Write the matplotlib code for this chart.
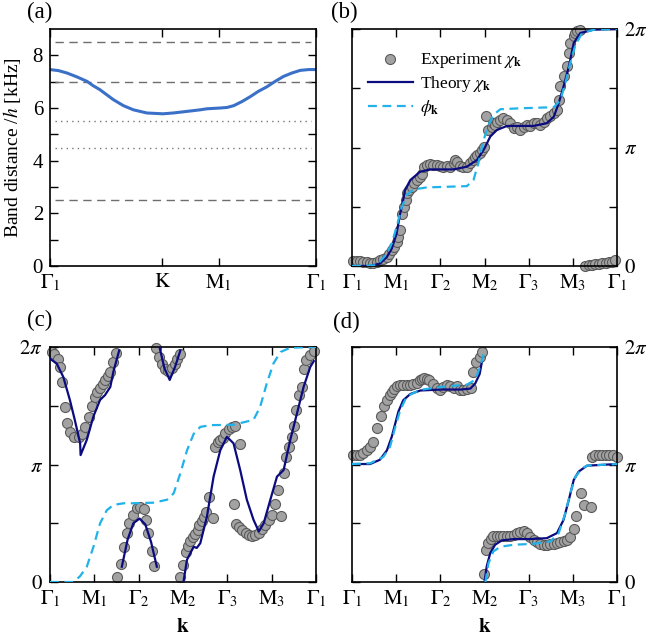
import numpy as np
import matplotlib
matplotlib.use('Agg')
import matplotlib.pyplot as plt

plt.rcParams['font.family'] = ['Liberation Serif', 'DejaVu Serif']
plt.rcParams['mathtext.fontset'] = 'stix'

nan = np.nan

# ---------------- Panel (a) ----------------
a_tick_pos = [0.0, 1.333, 2.0, 3.155]
a_tick_labels = [r'$\Gamma_1$', r'$\mathrm{K}$', r'$\mathrm{M}_1$', r'$\Gamma_1$']
a_k = [0.0, 0.10, 0.20, 0.32, 0.44, 0.51, 0.59, 0.67, 0.75, 0.87, 0.99, 1.15, 1.34,
       1.46, 1.62, 1.78, 1.86, 2.02, 2.10, 2.18, 2.28, 2.38, 2.47, 2.57, 2.67, 2.77,
       2.87, 2.97, 3.07, 3.155]
a_band = [7.46, 7.42, 7.33, 7.18, 7.01, 6.85, 6.70, 6.51, 6.32, 6.09, 5.93, 5.81, 5.78,
          5.81, 5.87, 5.93, 5.97, 6.00, 6.02, 6.09, 6.25, 6.44, 6.63, 6.80, 7.01, 7.20,
          7.33, 7.43, 7.46, 7.46]
a_dashed_levels = [8.5, 7.0, 2.5]
a_dotted_levels = [5.5, 4.5]

# ---------------- common path for (b)-(d) ----------------
path_pos = [0, 1, 2, 3, 4, 5, 6]
path_labels = [r'$\Gamma_1$', r'$\mathrm{M}_1$', r'$\Gamma_2$', r'$\mathrm{M}_2$',
               r'$\Gamma_3$', r'$\mathrm{M}_3$', r'$\Gamma_1$']
phase_ticks = [0, 0.5, 1, 1.5, 2]          # in units of pi
phase_labels = [r'$0$', '', r'$\pi$', '', r'$2\pi$']

# ---------------- Panel (b) ----------------
b_exp_k = [0.03, 0.11, 0.18, 0.26, 0.33, 0.41, 0.48, 0.56, 0.63, 0.71, 0.79, 0.84, 0.90,
           0.95, 1.01, 1.05, 1.09, 1.14, 1.18, 1.22, 1.25, 1.30, 1.35, 1.41, 1.47, 1.53,
           1.58, 1.63, 1.69, 1.77, 1.84, 1.92, 2.00, 2.07, 2.15, 2.22, 2.30, 2.34, 2.37,
           2.45, 2.52, 2.60, 2.68, 2.75, 2.79, 2.83, 2.89, 2.94, 2.98, 3.04, 3.09, 3.17,
           3.20, 3.24, 3.28, 3.36, 3.43, 3.51, 3.58, 3.66, 3.73, 3.81, 3.89, 3.96, 4.04,
           4.11, 4.19, 4.26, 4.34, 4.41, 4.49, 4.57, 4.64, 4.68, 4.72, 4.79, 4.87, 4.91,
           4.94, 5.02, 5.06, 5.09, 5.17,
           5.28, 5.36, 5.43, 5.51, 5.59, 5.66, 5.74, 5.81, 5.89, 5.96]
b_exp_y = [0.039, 0.039, 0.039, 0.034, 0.031, 0.025, 0.028, 0.034, 0.048, 0.062, 0.076,
           0.104, 0.133, 0.161, 0.203, 0.245, 0.302, 0.443, 0.500, 0.556, 0.612, 0.640,
           0.668, 0.697, 0.725, 0.753, 0.780, 0.838, 0.852, 0.860, 0.855, 0.849, 0.843,
           0.838, 0.845, 0.838, 0.866, 0.894, 0.880, 0.843, 0.838, 0.832, 0.866, 0.894,
           0.922, 0.937, 0.951, 0.979, 1.007, 1.267, 1.148, 1.176, 1.205, 1.190, 1.219,
           1.233, 1.247, 1.233, 1.205, 1.162, 1.176, 1.148, 1.176, 1.190, 1.182, 1.205,
           1.205, 1.190, 1.219, 1.247, 1.262, 1.290, 1.320, 1.400, 1.515, 1.600, 1.684,
           1.797, 1.882, 1.938, 1.966, 1.980, 1.989,
           0.000, 0.006, 0.011, 0.020, 0.020, 0.025, 0.028, 0.031, 0.034, 0.048]
b_theory_k = [0.0, 0.41, 0.63, 0.79, 0.90, 1.01, 1.09, 1.13, 1.20, 1.32, 1.54, 1.77,
              2.30, 2.60, 2.83, 3.00, 3.13, 3.28, 3.51, 4.11, 4.41, 4.57, 4.68, 4.79,
              4.91, 5.02, 5.17, 5.47, 6.0]
b_theory_y = [0.0, 0.0, 0.02, 0.076, 0.147, 0.274, 0.443, 0.50, 0.64, 0.725, 0.795,
              0.815, 0.815, 0.838, 0.894, 0.993, 1.092, 1.148, 1.182, 1.182, 1.205,
              1.26, 1.374, 1.515, 1.684, 1.882, 1.966, 1.994, 2.0]
b_phi_k = [0.0, 0.56, 0.79, 0.90, 1.01, 1.13, 1.24, 1.39, 1.69, 2.60, 2.75, 2.86, 2.98,
           3.09, 3.20, 3.36, 3.81, 4.57, 4.72, 4.83, 4.94, 5.06, 5.21, 5.47, 6.0]
b_phi_y = [0.0, 0.006, 0.104, 0.19, 0.33, 0.50, 0.60, 0.646, 0.663, 0.674, 0.725, 0.866,
           1.063, 1.19, 1.275, 1.323, 1.331, 1.34, 1.40, 1.543, 1.712, 1.867, 1.966,
           1.994, 2.0]

# ---------------- Panel (c) ----------------
c_exp_k = [0.04, 0.09, 0.17, 0.23, 0.26, 0.34, 0.39, 0.45, 0.54, 0.66, 0.72, 0.79, 0.87,
           0.94, 1.02, 1.07, 1.13, 1.19, 1.24, 1.30, 1.36, 1.43, 1.49,
           1.52, 1.60, 1.67, 1.73, 1.79, 1.88, 1.96, 2.03, 2.11, 2.17, 2.22, 2.30, 2.35,
           2.39, 2.45, 2.52, 2.60, 2.67, 2.75, 2.81, 2.86, 2.94,
           2.94, 3.00, 3.06, 3.11, 3.16, 3.22, 3.27, 3.33, 3.37, 3.42, 3.47, 3.52, 3.58,
           3.67, 3.73, 3.78, 3.84, 3.90, 3.95, 4.03, 4.10, 4.18, 4.28, 4.14, 4.20, 4.26,
           4.33, 4.41, 4.48, 4.56, 4.63, 4.71, 4.78, 4.86, 4.93, 5.01, 5.08, 5.20, 5.14,
           5.27, 5.33, 5.38, 5.46, 5.51, 5.56, 5.61, 5.69, 5.72, 5.78, 5.86, 5.95]
c_exp_y = [1.958, 1.938, 1.900, 1.830, 1.700, 1.490, 1.350, 1.280, 1.236, 1.236, 1.260,
           1.320, 1.406, 1.496, 1.576, 1.618, 1.652, 1.689, 1.717, 1.751, 1.788, 1.873,
           1.949,
           0.042, 0.153, 0.297, 0.416, 0.506, 0.571, 0.628, 0.636, 0.620, 0.529, 0.416,
           0.260, 0.133,
           1.990, 1.915, 1.853, 1.816, 1.796, 1.822, 1.859, 1.900, 1.943,
           0.040, 0.147, 0.255, 0.303, 0.345, 0.379, 0.410, 0.444, 0.484, 0.515, 0.557,
           0.597, 0.727, 0.543, 1.151, 1.194, 1.208, 1.222, 1.265, 1.298, 1.321, 1.327,
           1.174, 0.665, 0.495, 0.464, 0.444, 0.421, 0.402, 0.393, 0.402, 0.421, 0.450,
           0.487, 0.529, 0.571, 0.665, 0.563, 0.784, 0.925, 1.066, 1.151, 1.236, 1.327,
           1.462, 1.590, 1.660, 1.816, 1.887, 1.929, 1.966]
c_theory_k = [0.0, 0.15, 0.30, 0.45, 0.56, 0.68, 0.69, 0.83, 0.98, 1.13, 1.24, 1.36, 1.43,
              1.56, nan,
              1.62, 1.75, 1.88, 2.02, 2.15, 2.28, 2.41, nan,
              2.47, 2.58, 2.70, 2.82, 2.94, nan,
              3.01, 3.09, 3.24, 3.31, 3.39, 3.54, 3.69, 3.84, 3.99, 4.14, 4.29, 4.44, 4.59,
              4.71, 4.82, 4.97, 5.12, 5.27, 5.42, 5.57, 5.72, 5.87, 5.95]
c_theory_y = [1.90, 1.86, 1.745, 1.547, 1.378, 1.18, 1.08, 1.21, 1.41, 1.55, 1.59, 1.66,
              1.79, 1.97, nan,
              0.13, 0.36, 0.50, 0.54, 0.49, 0.34, 0.13, nan,
              2.0, 1.82, 1.72, 1.83, 1.97, nan,
              0.0, 0.19, 0.30, 0.29, 0.33, 0.557, 0.897, 1.12, 1.236, 1.18, 0.953, 0.70,
              0.53, 0.43, 0.50, 0.70, 0.897, 0.953, 1.21, 1.434, 1.66, 1.83, 1.88]
c_phi_k = [0.0, 0.53, 0.68, 0.83, 0.98, 1.13, 1.28, 1.43, 1.66, 1.88, 2.33, 2.64, 2.79,
           2.94, 3.09, 3.24, 3.39, 3.62, 4.14, 4.59, 4.74, 4.89, 5.04, 5.20, 5.42, 6.0]
c_phi_y = [0.0, 0.0, 0.05, 0.13, 0.30, 0.50, 0.61, 0.656, 0.67, 0.67, 0.675, 0.70, 0.755,
           0.925, 1.12, 1.26, 1.32, 1.335, 1.338, 1.38, 1.49, 1.69, 1.86, 1.957, 1.994,
           2.0]

# ---------------- Panel (d) ----------------
d_exp_k = [0.03, 0.11, 0.18, 0.26, 0.33, 0.41, 0.48, 0.57, 0.65, 0.73, 0.79, 0.85, 0.90,
           0.95, 1.01, 1.09, 1.16, 1.24, 1.32, 1.39, 1.47, 1.53, 1.58, 1.63, 1.69, 1.75,
           1.84, 1.92, 2.00, 2.07, 2.15, 2.22, 2.30, 2.37, 2.45, 2.52, 2.60, 2.69, 2.75,
           2.81, 2.89, 2.94,
           2.98, 3.03, 3.09, 3.14, 3.20, 3.28, 3.36, 3.43, 3.51, 3.58, 3.66, 3.73, 3.81,
           3.89, 3.96, 4.04, 4.11, 4.19, 4.26, 4.34, 4.41, 4.49, 4.57, 4.64, 4.72, 4.79,
           4.87, 4.94, 5.03, 5.08, 5.19, 5.25, 5.41, 5.43, 5.51, 5.59, 5.66, 5.74, 5.81,
           5.90, 5.99]
d_exp_y = [1.081, 1.078, 1.083, 1.100, 1.123, 1.151, 1.194, 1.313, 1.412, 1.496, 1.547,
           1.590, 1.618, 1.646, 1.666, 1.675, 1.680, 1.675, 1.680, 1.683, 1.694, 1.717,
           1.731, 1.740, 1.726, 1.717, 1.689, 1.655, 1.638, 1.660, 1.675, 1.666, 1.655,
           1.666, 1.638, 1.632, 1.646, 1.655, 1.788, 1.873, 1.915, 1.958,
           0.071, 0.274, 0.331, 0.365, 0.388, 0.388, 0.388, 0.388, 0.393, 0.393, 0.402,
           0.416, 0.424, 0.436, 0.416, 0.382, 0.354, 0.337, 0.325, 0.317, 0.317, 0.322,
           0.322, 0.331, 0.339, 0.345, 0.359, 0.382, 0.450, 0.563, 0.761, 0.656, 0.642,
           1.066, 1.078, 1.078, 1.078, 1.078, 1.078, 1.078, 1.066]
d_theory_k = [0.0, 0.41, 0.63, 0.79, 0.90, 0.98, 1.05, 1.16, 1.32, 1.55, 2.02, 2.46,
              2.68, 2.79, 2.89, 2.94, nan,
              3.0, 3.05, 3.13, 3.24, 3.39, 3.66, 4.01, 4.41, 4.64, 4.79, 4.91, 5.02,
              5.13, 5.32, 6.0]
d_theory_y = [1.004, 1.004, 1.04, 1.12, 1.236, 1.35, 1.45, 1.547, 1.60, 1.63, 1.638,
              1.638, 1.646, 1.69, 1.77, 1.87, nan,
              0.0, 0.133, 0.246, 0.317, 0.354, 0.365, 0.365, 0.373, 0.416, 0.529, 0.70,
              0.868, 0.939, 0.99, 1.004]
d_phi_k = [0.0, 0.41, 0.71, 0.86, 0.98, 1.09, 1.24, 1.54, 2.01, 2.60, 2.79, 2.90, 2.98,
           nan,
           3.02, 3.09, 3.20, 3.36, 3.66, 4.11, 4.49, 4.68, 4.83, 4.94, 5.06, 5.21, 5.32,
           6.0]
d_phi_y = [1.004, 1.01, 1.065, 1.15, 1.32, 1.46, 1.58, 1.635, 1.66, 1.68, 1.72, 1.83,
           1.94, nan,
           0.0, 0.16, 0.26, 0.30, 0.317, 0.325, 0.345, 0.416, 0.585, 0.755, 0.897, 0.967,
           0.99, 1.004]

# ---------------- styling ----------------
navy = '#0b0b80'
cyan = '#20b2e8'
blue_a = '#3b70c8'
mk_face = '#a2a2a2'
mk_edge = '#5a5a5a'
fs = 15

fig = plt.figure(figsize=(6.49, 6.38), dpi=100)
W, H = 649, 638

def box(x0, y0, x1, y1):
    return [x0 / W, 1 - y1 / H, (x1 - x0) / W, (y1 - y0) / H]

ax_a = fig.add_axes(box(50, 29, 316, 266))
ax_b = fig.add_axes(box(352, 29, 617, 266))
ax_c = fig.add_axes(box(50, 347, 316, 582))
ax_d = fig.add_axes(box(352, 347, 617, 582))

for ax in (ax_a, ax_b, ax_c, ax_d):
    for s in ax.spines.values():
        s.set_linewidth(1.2)
    ax.tick_params(which='both', direction='in', top=True, right=True,
                   length=5.5, width=1.0, labelsize=fs, pad=5)

# (a)
for lv in a_dashed_levels:
    ax_a.axhline(lv, xmin=0.02, xmax=0.98, color='#6e6e6e', lw=1.0, dashes=(6, 4))
for lv in a_dotted_levels:
    ax_a.axhline(lv, xmin=0.02, xmax=0.98, color='#777777', lw=1.0, dashes=(1, 3))
ax_a.plot(a_k, a_band, color=blue_a, lw=2.2, solid_capstyle='round')
ax_a.set_xlim(a_tick_pos[0], a_tick_pos[-1])
ax_a.set_ylim(0, 9)
ax_a.set_xticks(a_tick_pos)
ax_a.set_xticklabels(a_tick_labels)
ax_a.set_yticks([0, 2, 4, 6, 8])
ax_a.set_yticks([1, 3, 5, 7], minor=True)
ax_a.set_ylabel(r'Band distance /$h$ [kHz]', fontsize=14, labelpad=7)

def phase_axes(ax, label_side):
    ax.set_xlim(0, 6)
    ax.set_ylim(0, 2)
    ax.set_xticks(path_pos)
    ax.set_xticklabels(path_labels)
    ax.set_yticks(phase_ticks)
    ax.set_yticklabels(phase_labels)
    if label_side == 'right':
        ax.tick_params(axis='y', labelleft=False, labelright=True)

scat_kw = dict(s=52, facecolor=mk_face, edgecolor=mk_edge, linewidths=0.8,
               clip_on=False, zorder=2)

# (b)
ax_b.scatter(b_exp_k, b_exp_y, label=r'Experiment $\chi_\mathbf{k}$', **scat_kw)
ax_b.plot(b_theory_k, b_theory_y, color=navy, lw=1.6, zorder=3,
          label=r'Theory $\chi_\mathbf{k}$')
ax_b.plot(b_phi_k, b_phi_y, color=cyan, lw=1.6, dashes=(4, 2.5), zorder=3,
          label=r'$\phi_\mathbf{k}$')
phase_axes(ax_b, 'right')
ax_b.legend(loc='upper left', bbox_to_anchor=(0.0, 0.975), frameon=False, fontsize=12.5,
            handlelength=2.6, labelspacing=0.25, handletextpad=0.4, scatterpoints=1)

# (c)
ax_c.scatter(c_exp_k, c_exp_y, **scat_kw)
ax_c.plot(c_phi_k, c_phi_y, color=cyan, lw=1.6, dashes=(4, 2.5), zorder=3)
ax_c.plot(c_theory_k, c_theory_y, color=navy, lw=1.6, zorder=3)
phase_axes(ax_c, 'left')
ax_c.set_xlabel(r'$\mathbf{k}$', fontsize=fs, labelpad=6)

# (d)
ax_d.scatter(d_exp_k, d_exp_y, **scat_kw)
ax_d.plot(d_theory_k, d_theory_y, color=navy, lw=1.6, zorder=3)
ax_d.plot(d_phi_k, d_phi_y, color=cyan, lw=1.6, dashes=(4, 2.5), zorder=4)
phase_axes(ax_d, 'right')
ax_d.set_xlabel(r'$\mathbf{k}$', fontsize=fs, labelpad=6)

for lab, (x, y) in zip(['(a)', '(b)', '(c)', '(d)'],
                       [(27, 2), (331, 2), (27, 310), (333, 312)]):
    fig.text(x / W, 1 - y / H, lab, fontsize=16.5, ha='left', va='top')

fig.savefig('out.png', dpi=100)
